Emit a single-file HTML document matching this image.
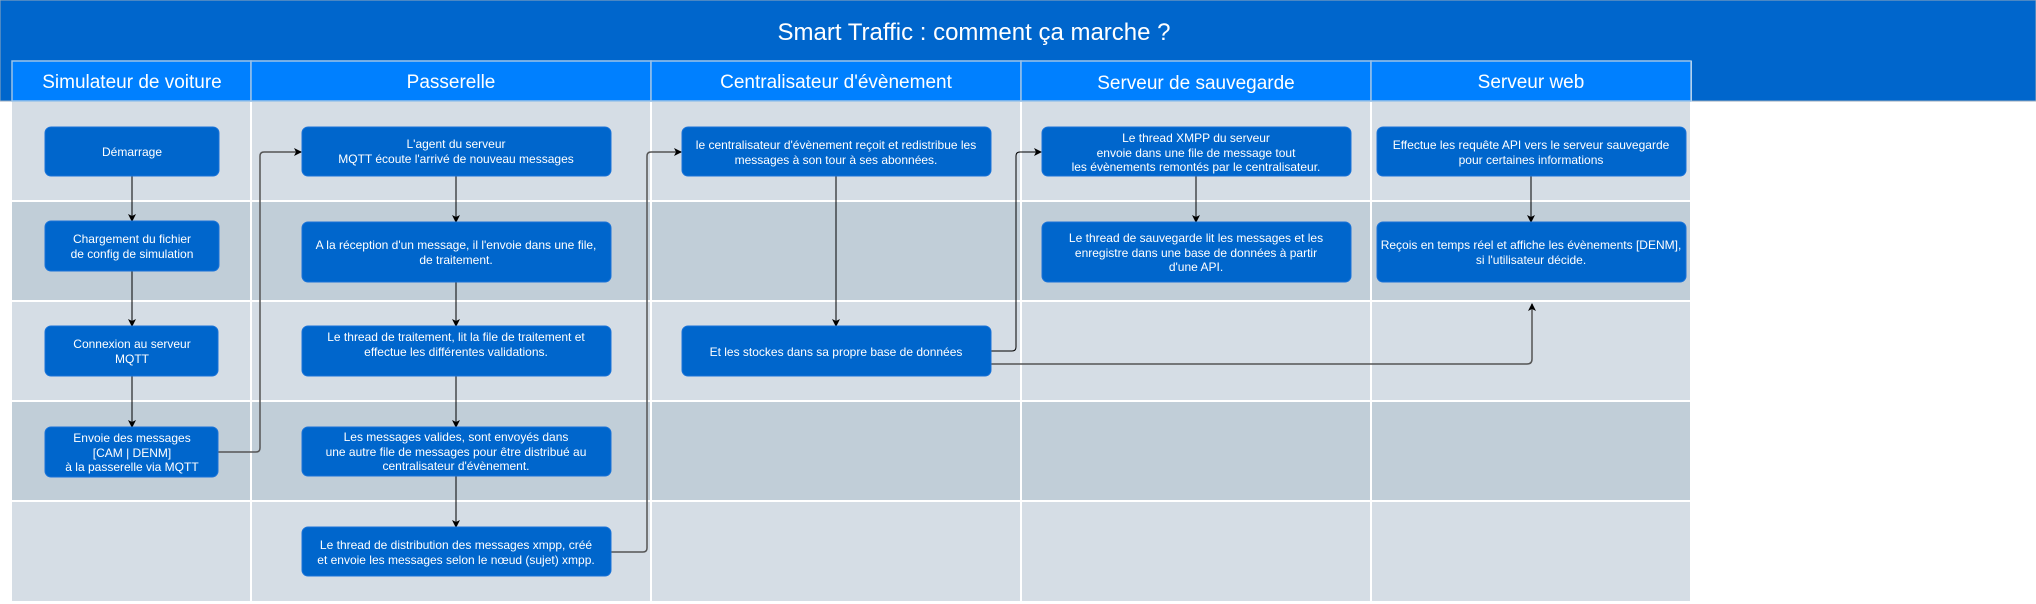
<!DOCTYPE html>
<html><head><meta charset="utf-8"><style>
body{margin:0;background:#fff;}
svg{display:block;font-family:"Liberation Sans",sans-serif;}
.bx{fill:#0066cc;stroke:#1a73d9;stroke-width:1;}
.t{fill:#fff;font-size:12px;text-anchor:middle;}
.h{fill:#fff;font-size:19px;text-anchor:middle;}
.c{fill:none;stroke:#000;stroke-width:1;}
.g{fill:none;stroke:#555;stroke-width:1.5;}
</style></head><body>
<svg width="2036" height="604" viewBox="0 0 2036 604">
<defs><marker id="a" markerWidth="8" markerHeight="8" refX="7" refY="4" orient="auto" markerUnits="userSpaceOnUse"><path d="M0,0 L8,4 L0,8 L2,4 z" fill="#000"/></marker></defs>
<rect x="0" y="0" width="2036" height="101" fill="#0066cc" stroke="#9ab" stroke-width="1"/>
<text x="974" y="40" fill="#fff" font-size="24" text-anchor="middle">Smart Traffic :  comment ça marche ?</text>
<!-- rows -->
<g>
<rect x="12" y="101" width="1680" height="100" fill="#d5dde5"/>
<rect x="12" y="201" width="1680" height="100" fill="#c1ced8"/>
<rect x="12" y="301" width="1680" height="100" fill="#d5dde5"/>
<rect x="12" y="401" width="1680" height="100" fill="#c1ced8"/>
<rect x="12" y="501" width="1680" height="100" fill="#d5dde5"/>
</g>
<g stroke="#fff" stroke-width="2">
<line x1="12" y1="201" x2="1692" y2="201"/><line x1="12" y1="301" x2="1692" y2="301"/>
<line x1="12" y1="401" x2="1692" y2="401"/><line x1="12" y1="501" x2="1692" y2="501"/>
<line x1="251" y1="61" x2="251" y2="604"/><line x1="651" y1="61" x2="651" y2="604"/>
<line x1="1021" y1="61" x2="1021" y2="604"/><line x1="1371" y1="61" x2="1371" y2="604"/>
<line x1="1691" y1="61" x2="1691" y2="604"/>
</g>
<!-- headers -->
<g fill="#0080ff" stroke="#9cc3e8" stroke-width="1.5">
<rect x="12" y="61" width="239" height="40"/><rect x="251" y="61" width="400" height="40"/>
<rect x="651" y="61" width="370" height="40"/><rect x="1021" y="61" width="350" height="40"/>
<rect x="1371" y="61" width="320" height="40"/>
</g>
<text class="h" x="132" y="88">Simulateur de voiture</text>
<text class="h" x="451" y="88">Passerelle</text>
<text class="h" x="836" y="88">Centralisateur d'évènement</text>
<text class="h" x="1196" y="89">Serveur de sauvegarde</text>
<text class="h" x="1531" y="88">Serveur web</text>
<!-- connectors -->
<path class="c" d="M132,176 V221" marker-end="url(#a)"/>
<path class="c" d="M132,271 V326" marker-end="url(#a)"/>
<path class="c" d="M132,376 V427" marker-end="url(#a)"/>
<path class="g" d="M218,452 H256 Q260,452 260,448 V156 Q260,152 264,152 H301" marker-end="url(#a)"/>
<path class="c" d="M456,176 V222" marker-end="url(#a)"/>
<path class="c" d="M456,282 V326" marker-end="url(#a)"/>
<path class="c" d="M456,376 V427" marker-end="url(#a)"/>
<path class="c" d="M456,476 V527" marker-end="url(#a)"/>
<path class="g" d="M611,552 H643 Q647,552 647,548 V156 Q647,152 651,152 H681" marker-end="url(#a)"/>
<path class="c" d="M836,176 V326" marker-end="url(#a)"/>
<path class="c" d="M991,351 H1012 Q1016,351 1016,347 V156 Q1016,152 1020,152 H1041" marker-end="url(#a)"/>
<path class="g" d="M991,364 H1527 Q1532,364 1532,359 V304" marker-end="url(#a)"/>
<path class="c" d="M1196,176 V222" marker-end="url(#a)"/>
<path class="c" d="M1531,176 V222" marker-end="url(#a)"/>
<!-- boxes -->
<rect class="bx" x="45" y="127" width="174" height="49" rx="6"/>
<text class="t" x="132" y="156">Démarrage</text>
<rect class="bx" x="45" y="221" width="174" height="50" rx="6"/>
<text class="t" x="132" y="243">Chargement du fichier</text><text class="t" x="132" y="258">de config de simulation</text>
<rect class="bx" x="45" y="326" width="173" height="50" rx="6"/>
<text class="t" x="132" y="348">Connexion au serveur</text><text class="t" x="132" y="363">MQTT</text>
<rect class="bx" x="45" y="427" width="173" height="50" rx="6"/>
<text class="t" x="132" y="442">Envoie des messages</text><text class="t" x="132" y="457">[CAM | DENM]</text><text class="t" x="132" y="471">à la passerelle via MQTT</text>

<rect class="bx" x="302" y="127" width="309" height="49" rx="6"/>
<text class="t" x="456" y="148">L'agent du serveur</text><text class="t" x="456" y="163">MQTT écoute l'arrivé de nouveau messages</text>
<rect class="bx" x="302" y="222" width="309" height="60" rx="6"/>
<text class="t" x="456" y="249">A la réception d'un message, il l'envoie dans une file,</text><text class="t" x="456" y="264">de traitement.</text>
<rect class="bx" x="302" y="326" width="309" height="50" rx="6"/>
<text class="t" x="456" y="341">Le thread de traitement, lit la file de traitement et</text><text class="t" x="456" y="356">effectue les différentes validations.</text>
<rect class="bx" x="302" y="427" width="309" height="49" rx="6"/>
<text class="t" x="456" y="441">Les messages valides, sont envoyés dans</text><text class="t" x="456" y="456">une autre file de messages pour être distribué au</text><text class="t" x="456" y="470">centralisateur d'évènement.</text>
<rect class="bx" x="302" y="527" width="309" height="49" rx="6"/>
<text class="t" x="456" y="549">Le thread de distribution des messages xmpp, créé</text><text class="t" x="456" y="564">et envoie les messages selon le nœud (sujet) xmpp.</text>

<rect class="bx" x="682" y="127" width="309" height="49" rx="6"/>
<text class="t" x="836" y="149">le centralisateur d'évènement reçoit et redistribue les</text><text class="t" x="836" y="164">messages à son tour à ses abonnées.</text>
<rect class="bx" x="682" y="326" width="309" height="50" rx="6"/>
<text class="t" x="836" y="356">Et les stockes dans sa propre base de données</text>

<rect class="bx" x="1042" y="127" width="309" height="49" rx="6"/>
<text class="t" x="1196" y="142">Le thread XMPP du serveur</text><text class="t" x="1196" y="157">envoie dans une file de message tout</text><text class="t" x="1196" y="171">les  évènements remontés par le centralisateur.</text>
<rect class="bx" x="1042" y="222" width="309" height="60" rx="6"/>
<text class="t" x="1196" y="242">Le thread de sauvegarde lit les messages et les</text><text class="t" x="1196" y="257">enregistre dans une base de données à partir</text><text class="t" x="1196" y="271">d'une API.</text>

<rect class="bx" x="1377" y="127" width="309" height="49" rx="6"/>
<text class="t" x="1531" y="149">Effectue les requête API vers le serveur sauvegarde</text><text class="t" x="1531" y="164">pour certaines informations</text>
<rect class="bx" x="1377" y="222" width="309" height="60" rx="6"/>
<text class="t" x="1531" y="249">Reçois en temps réel et affiche les évènements [DENM],</text><text class="t" x="1531" y="264">si l'utilisateur décide.</text>
</svg>
</body></html>
